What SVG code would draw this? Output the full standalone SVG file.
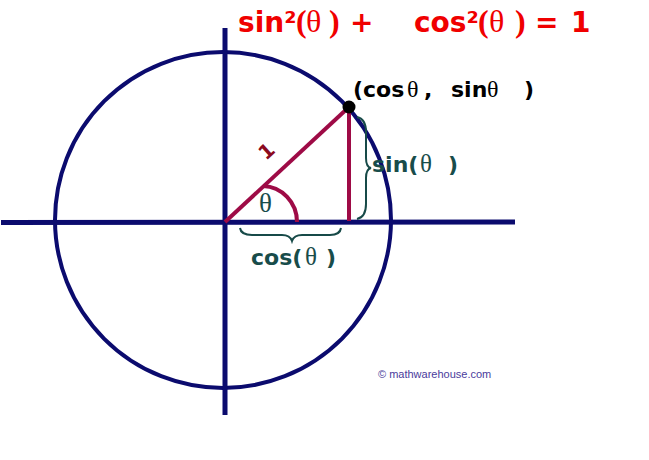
<svg xmlns="http://www.w3.org/2000/svg" width="649" height="460" viewBox="0 0 649 460">
<style>
.ax{stroke:#0b0b6e;stroke-width:5;fill:none}
.circ{stroke:#0b0b6e;stroke-width:4;fill:none}
.red{stroke:#9e0b46;stroke-width:4;fill:none}
.brace{stroke:#174a48;stroke-width:2;fill:none}
.b{font-family:"DejaVu Sans",Verdana,sans-serif;font-weight:bold}
.s{font-family:"Liberation Serif","Times New Roman",serif}
.teal{fill:#184c4a}
.title{fill:#f00000}
</style>
<rect width="649" height="460" fill="#ffffff"/>
<g id="connectors">
<circle class="circ" cx="223" cy="220" r="168"/>
<line class="ax" x1="1" y1="222.5" x2="515" y2="222"/>
<line class="ax" x1="225" y1="28" x2="225" y2="415"/>
<line class="red" x1="225" y1="222" x2="349" y2="107"/>
<line class="red" x1="349" y1="107" x2="349" y2="221"/>
<path class="red" d="M263,186 A35,36 0 0 1 297,222"/>
<path class="brace" d="M357,117 Q366,119 366,132 L366,158 Q366,167 371,168 Q366,169 366,178 L366,204 Q366,217 357,219"/>
<path class="brace" d="M240,228 Q241,235 252,235 L282,235 Q290,235 292,241 Q294,235 302,235 L330,235 Q340,235 341,228"/>
</g>
<g id="point">
<circle cx="349" cy="107" r="6.5" fill="#000"/>
<text class="b" x="353" y="97" font-size="22" fill="#000">(cos<tspan class="s" font-weight="normal" font-size="24" x="407">θ</tspan><tspan x="424">,</tspan><tspan x="451">sin</tspan><tspan class="s" font-weight="normal" font-size="24" x="487">θ</tspan><tspan x="524">)</tspan></text>
</g>
<g id="title">
<text class="b title" x="238" y="32" font-size="28">sin²<tspan class="s" x="296" font-size="32">(</tspan><tspan class="s" font-weight="normal" x="306" font-size="32">θ</tspan><tspan class="s" x="329" font-size="32">)</tspan><tspan x="350">+</tspan><tspan x="414">cos²</tspan><tspan class="s" x="478" font-size="32">(</tspan><tspan class="s" font-weight="normal" x="489" font-size="32">θ</tspan><tspan class="s" x="515" font-size="32">)</tspan><tspan x="535">=</tspan><tspan x="571">1</tspan></text>
</g>
<g id="radius-label">
<text class="b" x="0" y="0" font-size="20" fill="#8b0a1e" transform="translate(266,161) rotate(-42)">1</text>
</g>
<g id="angle-label">
<text class="s teal" x="259" y="212" font-size="27">θ</text>
</g>
<g id="sin-label">
<text class="b teal" x="372" y="172" font-size="22">sin(<tspan class="s" font-weight="normal" font-size="25" x="420">θ</tspan><tspan x="448">)</tspan></text>
</g>
<g id="cos-label">
<text class="b teal" x="251" y="265" font-size="22">cos(<tspan class="s" font-weight="normal" font-size="25" x="305">θ</tspan><tspan x="326">)</tspan></text>
</g>
<g id="credit">
<text x="378" y="378" font-family="'Liberation Sans',Arial,sans-serif" font-size="11" fill="#4a3c9c">©  mathwarehouse.com</text>
</g>
</svg>
